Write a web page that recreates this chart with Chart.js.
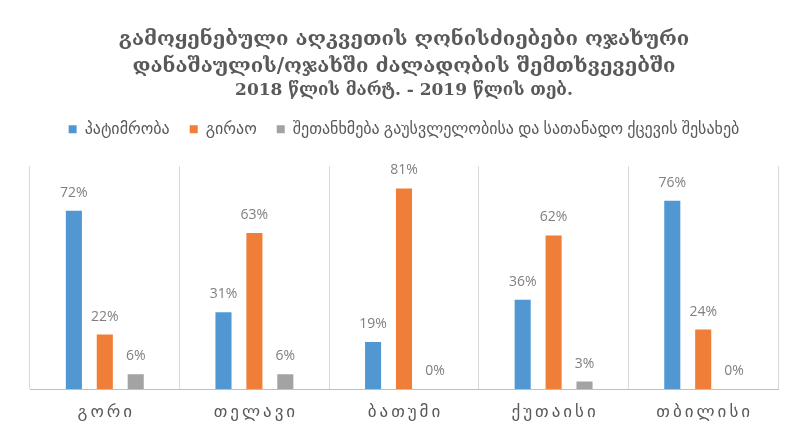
<!DOCTYPE html>
<html>
<head>
<meta charset="utf-8">
<script src="https://cdn.jsdelivr.net/npm/chart.js@4/dist/chart.umd.min.js"></script>
<style>
  html, body { margin: 0; padding: 0; background: #fff; }
  #wrap { width: 790px; height: 426px; }
</style>
</head>
<body>
<div id="wrap"><canvas id="caseChart" width="790" height="426"></canvas></div>
<script>
// cities
const cities = ['გორი', 'თელავი', 'ბათუმი', 'ქუთაისი', 'თბილისი'];

// share of each preventive measure, %
const detention = [72, 31, 19, 36, 76];
const bail = [22, 63, 81, 62, 24];
const agreement = [6, 6, 0, 3, 0];

const seriesNames = ['პატიმრობა', 'გირაო', 'შეთანხმება გაუსვლელობისა და სათანადო ქცევის შესახებ'];
const titleLines = [
  'გამოყენებული აღკვეთის ღონისძიებები ოჯახური',
  'დანაშაულის/ოჯახში ძალადობის შემთხვევებში'
];
const periodLine = '2018 წლის მარტ. - 2019 წლის თებ.';

const textGray = '#595959';
const sansFont = "'Open Sans', 'DejaVu Sans', sans-serif";

/* value labels above bars */
const barLabels = {
  id: 'barLabels',
  afterDatasetsDraw(chart) {
    const ctx = chart.ctx;
    ctx.save();
    ctx.font = '14px ' + sansFont;
    ctx.fillStyle = '#7f7f7f';
    ctx.textAlign = 'center';
    ctx.textBaseline = 'middle';
    chart.data.datasets.forEach((ds, i) => {
      chart.getDatasetMeta(i).data.forEach((bar, j) => {
        ctx.fillText(ds.data[j] + '%', bar.x, bar.y - 18);
      });
    });
    ctx.restore();
  }
};

/* category names under the axis, letter-spaced */
const cityLabels = {
  id: 'cityLabels',
  afterDraw(chart) {
    const ctx = chart.ctx;
    const xs = chart.scales.x;
    const spacing = 3;
    ctx.save();
    ctx.font = '17px ' + sansFont;
    ctx.fillStyle = textGray;
    ctx.textAlign = 'center';
    ctx.textBaseline = 'middle';
    ctx.letterSpacing = spacing + 'px';
    cities.forEach((c, i) => {
      ctx.fillText(c, xs.getPixelForTick(i) + spacing / 2, chart.chartArea.bottom + 23);
    });
    ctx.restore();
  }
};

/* a bit of room between legend and plot */
const legendGap = {
  id: 'legendGap',
  beforeInit(chart) {
    const fit = chart.legend.fit;
    chart.legend.fit = function () {
      fit.bind(chart.legend)();
      this.height += 19;
    };
  }
};

new Chart(document.getElementById('caseChart').getContext('2d'), {
  type: 'bar',
  data: {
    labels: cities,
    datasets: [
      { label: seriesNames[0], data: detention, backgroundColor: '#5198d3' },
      { label: seriesNames[1], data: bail, backgroundColor: '#ef7e38' },
      { label: seriesNames[2], data: agreement, backgroundColor: '#a3a3a3' }
    ]
  },
  options: {
    responsive: false,
    animation: false,
    layout: { padding: { left: 30, right: 12, top: 27, bottom: 37 } },
    datasets: {
      bar: { categoryPercentage: 0.62, barPercentage: 0.52 }
    },
    plugins: {
      title: {
        display: true,
        text: titleLines,
        color: textGray,
        font: { family: "'DejaVu Serif', serif", size: 20.3, weight: 'bold', lineHeight: 1.3 },
        padding: { top: 0, bottom: 1 }
      },
      subtitle: {
        display: true,
        text: periodLine,
        color: textGray,
        font: { family: "'DejaVu Serif', serif", size: 17, weight: 'bold', lineHeight: 1.2 },
        padding: { top: 0, bottom: 0 }
      },
      legend: {
        position: 'top',
        align: 'center',
        labels: {
          color: textGray,
          font: { family: sansFont, size: 16 },
          boxWidth: 8,
          boxHeight: 8,
          padding: 20
        }
      },
      tooltip: { enabled: false }
    },
    scales: {
      x: {
        grid: { offset: true, color: '#d9d9d9', drawTicks: false },
        border: { color: '#bfbfbf' },
        ticks: { display: false }
      },
      y: {
        display: false,
        min: 0,
        max: 90
      }
    }
  },
  plugins: [legendGap, barLabels, cityLabels]
});
</script>
</body>
</html>
